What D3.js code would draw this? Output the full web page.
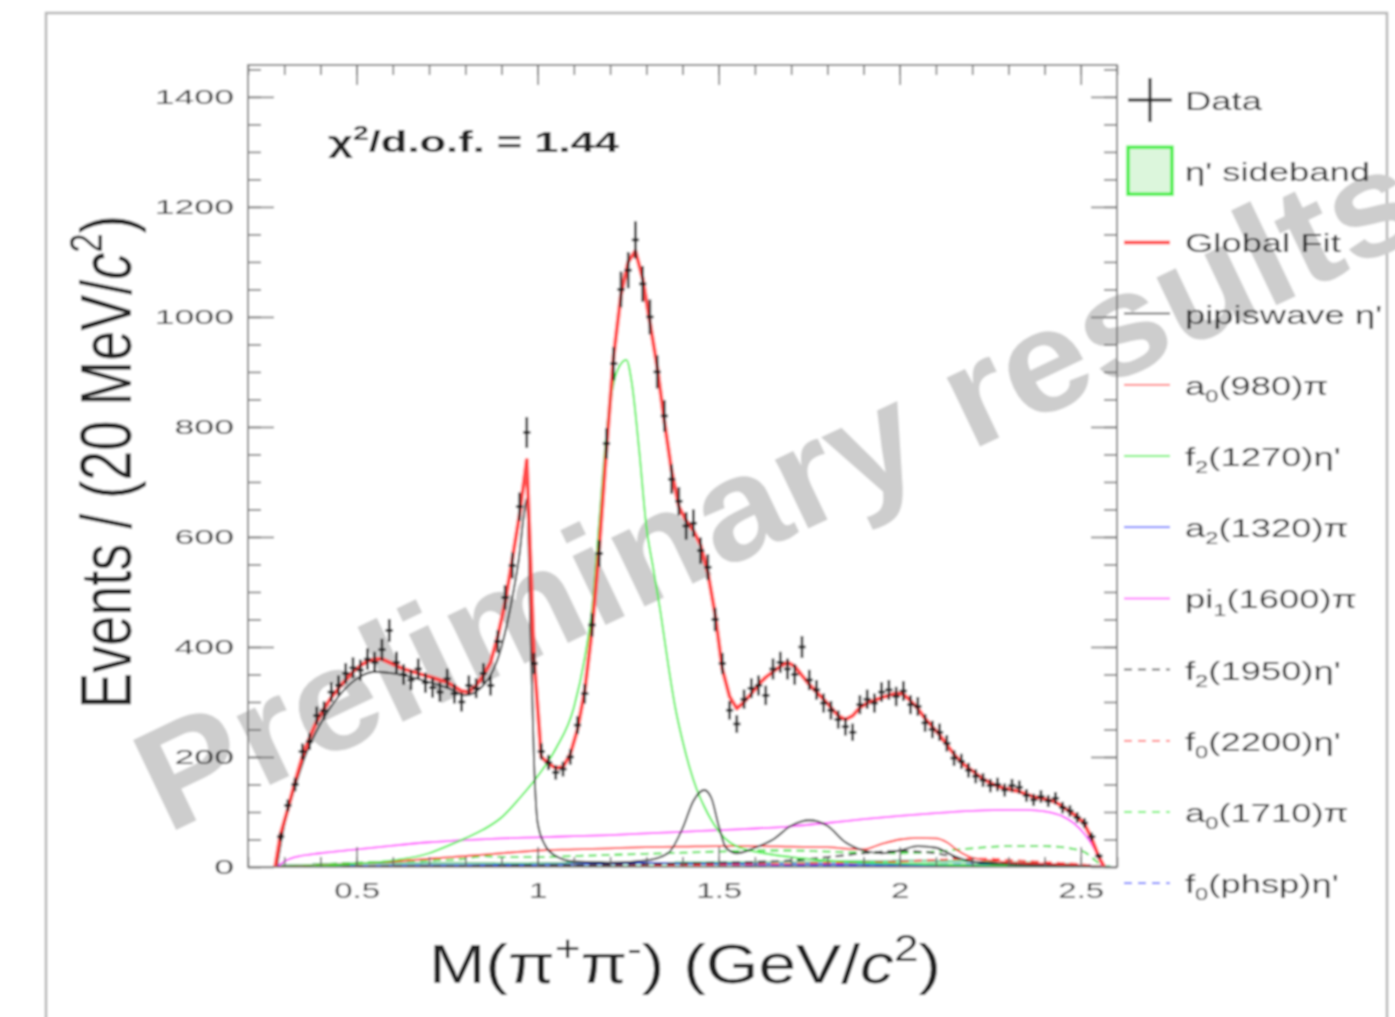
<!DOCTYPE html>
<html lang="en">
<head>
<meta charset="UTF-8">
<title>M(pi+pi-) fit</title>
<script src="https://cdn.jsdelivr.net/npm/d3@7"></script>
<style>
    body { margin: 0; background: #fff; }
    svg { display: block; font-family: "Liberation Sans", Arial, sans-serif; }
</style>
</head>
<body>
<script>
// binning of the M(pi+pi-) histogram (20 MeV bins)
const binStart = 0.28;
const binWidth = 0.02;

// observed events per bin
const dataCounts = [
    55, 112, 150, 210, 228, 275, 284, 318, 330, 352,
    362, 358, 378, 372, 395, 430, 372, 350, 340, 360,
    335, 326, 318, 342, 315, 300, 330, 325, 352, 330,
    410, 490, 548, 655, 790, 370, 210, 190, 172, 178,
    200, 258, 315, 440, 570, 770, 915, 1050, 1085, 1140,
    1060, 1000, 900, 820, 705, 665, 620, 625, 575, 545,
    450, 370, 285, 260, 305, 325, 330, 312, 360, 372,
    360, 350, 400, 340, 322, 298, 285, 268, 255, 245,
    295, 305, 298, 318, 322, 310, 320, 295, 292, 262,
    250, 245, 225, 198, 192, 176, 165, 158, 148, 150,
    140, 148, 145, 130, 122, 128, 120, 125, 108, 102,
    90, 80, 55, 20
];

// global fit, same bins
const fitValues = [
    60, 105, 155, 200, 235, 265, 288, 308, 325, 340,
    355, 366, 374, 378, 378, 372, 366, 360, 356, 352,
    348, 344, 340, 336, 328, 320, 318, 330, 348, 372,
    420, 480, 560, 640, 740, 380, 200, 188, 180, 182,
    205, 250, 320, 430, 580, 760, 930, 1040, 1100, 1120,
    1070, 990, 910, 810, 720, 655, 630, 612, 585, 535,
    460, 360, 310, 288, 300, 315, 332, 345, 355, 365,
    372, 365, 348, 332, 318, 305, 290, 275, 268, 275,
    290, 298, 303, 308, 312, 316, 314, 302, 288, 270,
    255, 240, 222, 205, 190, 180, 170, 160, 153, 147,
    143, 140, 137, 132, 128, 125, 122, 118, 110, 100,
    92, 78, 52, 18
];

// eta' sideband, 100 MeV steps
const sidebandEdges = [0.28, 0.38, 0.48, 0.58, 0.68, 0.78, 0.88, 0.98, 1.08, 1.18, 1.28, 1.38,
    1.48, 1.58, 1.68, 1.78, 1.88, 1.98, 2.08, 2.18, 2.28, 2.38, 2.48, 2.58];
const sidebandCounts = [4, 6, 7, 7, 8, 8, 7, 8, 9, 8, 8, 9, 9, 10, 10, 11, 11, 12, 11, 10, 9, 6, 2];

const sWaveMass = [0.28, 0.30, 0.33, 0.36, 0.40, 0.45, 0.50, 0.55, 0.60, 0.65, 0.70, 0.75, 0.80, 0.85, 0.90, 0.93, 0.95, 0.96, 0.97, 0.98, 0.99, 1.00, 1.02, 1.05, 1.10, 1.20, 1.30, 1.36, 1.40, 1.43, 1.46, 1.48, 1.50, 1.52, 1.55, 1.60, 1.65, 1.70, 1.75, 1.80, 1.85, 1.90, 1.95, 2.00, 2.05, 2.10, 2.15, 2.20, 2.30, 2.40, 2.50, 2.56];
const sWaveEvents = [0, 75, 145, 205, 260, 310, 342, 355, 352, 345, 336, 326, 312, 330, 400, 490, 570, 630, 670, 430, 190, 80, 40, 20, 10, 8, 12, 25, 70, 120, 140, 125, 75, 35, 25, 35, 50, 75, 85, 75, 45, 30, 25, 30, 38, 35, 20, 10, 5, 3, 1, 0];

const f1270Mass = [0.30, 0.40, 0.50, 0.60, 0.70, 0.75, 0.80, 0.85, 0.90, 0.95, 1.00, 1.05, 1.10, 1.13, 1.15, 1.17, 1.19, 1.21, 1.23, 1.245, 1.26, 1.28, 1.30, 1.32, 1.34, 1.36, 1.38, 1.40, 1.42, 1.44, 1.46, 1.48, 1.50, 1.53, 1.56, 1.60, 1.70, 1.80, 1.90, 2.00, 2.20, 2.40, 2.56];
const f1270Events = [0, 2, 6, 12, 25, 38, 52, 68, 90, 125, 165, 215, 290, 380, 470, 630, 790, 880, 915, 922, 880, 760, 620, 540, 460, 370, 290, 230, 180, 140, 110, 85, 65, 45, 35, 28, 18, 12, 8, 6, 3, 1, 0];

const pi1600Mass = [0.28, 0.30, 0.33, 0.40, 0.50, 0.60, 0.70, 0.80, 0.90, 1.00, 1.10, 1.20, 1.30, 1.40, 1.50, 1.60, 1.70, 1.80, 1.90, 2.00, 2.10, 2.20, 2.30, 2.35, 2.40, 2.45, 2.48, 2.51, 2.54, 2.56];
const pi1600Events = [0, 10, 18, 25, 32, 39, 45, 49, 52, 54, 56, 58, 61, 64, 67, 70, 74, 80, 87, 93, 98, 102, 104, 104, 101, 92, 80, 60, 30, 0];

const a980Mass = [0.28, 0.40, 0.50, 0.60, 0.70, 0.80, 0.90, 1.00, 1.10, 1.20, 1.30, 1.40, 1.50, 1.60, 1.70, 1.80, 1.86, 1.90, 1.95, 2.00, 2.05, 2.10, 2.13, 2.16, 2.20, 2.30, 2.40, 2.50, 2.56];
const a980Events = [0, 3, 6, 10, 15, 20, 25, 30, 32, 34, 36, 37, 38, 38, 37, 36, 33, 32, 42, 50, 53, 52, 45, 30, 17, 9, 6, 3, 0];

const a1320Mass = [0.28, 0.50, 0.80, 1.00, 1.20, 1.30, 1.40, 1.60, 1.80, 2.00, 2.20, 2.40, 2.56];
const a1320Events = [0, 2, 3, 4, 6, 8, 6, 5, 5, 4, 4, 3, 0];

const f1950Mass = [0.28, 0.50, 1.00, 1.30, 1.50, 1.70, 1.80, 1.90, 1.95, 2.00, 2.05, 2.10, 2.15, 2.20, 2.30, 2.40, 2.56];
const f1950Events = [0, 1, 3, 5, 8, 12, 18, 25, 28, 29, 28, 25, 18, 10, 5, 3, 0];

const f2200Mass = [0.28, 0.50, 1.00, 1.50, 1.80, 2.00, 2.10, 2.20, 2.25, 2.30, 2.40, 2.50, 2.56];
const f2200Events = [0, 1, 2, 4, 7, 10, 13, 15, 15, 13, 9, 5, 0];

const a1710Mass = [0.28, 0.40, 0.50, 0.60, 0.70, 0.80, 0.85, 0.90, 1.00, 1.10, 1.20, 1.30, 1.40, 1.50, 1.60, 1.70, 1.80, 1.90, 2.00, 2.10, 2.20, 2.30, 2.40, 2.50, 2.54, 2.56];
const a1710Events = [0, 5, 8, 10, 12, 15, 20, 18, 18, 20, 22, 24, 26, 28, 30, 30, 28, 26, 25, 28, 34, 38, 38, 30, 12, 0];

const phspMass = [0.28, 0.50, 1.00, 1.50, 2.00, 2.30, 2.50, 2.56];
const phspEvents = [0, 1, 2, 3, 4, 5, 4, 0];

// axis ticks
const xMajor = [0.5, 1, 1.5, 2, 2.5];
const xMinor = d3.range(0.2, 2.61, 0.1);
const yMajor = [0, 200, 400, 600, 800, 1000, 1200, 1400];
const yMinor = d3.range(0, 1451, 50);

const legendLabels = ["Data", "η' sideband", "Global Fit", "pipiswave η'", "a_{0}(980)π", "f_{2}(1270)η'",
    "a_{2}(1320)π", "pi_{1}(1600)π", "f_{2}(1950)η'", "f_{0}(2200)η'", "a_{0}(1710)π", "f_{0}(phsp)η'"];

// ---------------------------------------------------------------
const W = 1395, H = 1017;
const frame = { left: 248, top: 65, right: 1117, bottom: 867 };

const svg = d3.select("body").append("svg").attr("width", W).attr("height", H);
svg.append("defs").append("filter").attr("id", "soft")
    .append("feGaussianBlur").attr("stdDeviation", 1.1);
const root = svg.append("g").attr("filter", "url(#soft)");

root.append("rect").attr("width", W).attr("height", H).attr("fill", "#fff");
// canvas border
root.append("rect").attr("x", 46).attr("y", 13).attr("width", 1341).attr("height", 1100)
    .attr("fill", "#fff").attr("stroke", "#b4b4b4").attr("stroke-width", 2.5);

const x = d3.scaleLinear().domain([0.2, 2.6]).range([frame.left, frame.right]);
const y = d3.scaleLinear().domain([0, 1458]).range([frame.bottom, frame.top]);

// text with _{sub}, ^{sup}, ~{italic}
function rich(t, str, fs) {
    const parts = str.split(/([_^~]\{[^}]*\})/).filter(s => s.length);
    let cur = 0;
    parts.forEach(p => {
        let dy, size = fs, txt = p, italic = false;
        if (p[0] === "^" || p[0] === "_") {
            const target = p[0] === "^" ? -0.4 * fs : 0.28 * fs;
            dy = target - cur; cur = target; size = fs * 0.65; txt = p.slice(2, -1);
        } else if (p[0] === "~") {
            dy = -cur; cur = 0; italic = true; txt = p.slice(2, -1);
        } else {
            dy = -cur; cur = 0;
        }
        const ts = t.append("tspan").attr("dy", dy).attr("font-size", size).text(txt);
        if (italic) ts.attr("font-style", "italic");
    });
}

// watermark
root.append("text")
    .attr("transform", "translate(777,488) rotate(-25.5)")
    .attr("text-anchor", "middle").attr("dominant-baseline", "central")
    .attr("font-size", 145).attr("font-weight", "bold").attr("fill", "#cdcdcd")
    .attr("textLength", 1400).attr("lengthAdjust", "spacingAndGlyphs")
    .text("Preliminary results");

// sideband histogram
const sbPts = sidebandEdges.map((e, i) => [e, i < sidebandCounts.length ? sidebandCounts[i] : sidebandCounts[sidebandCounts.length - 1]]);
root.append("path")
    .datum(sbPts)
    .attr("d", d3.area().curve(d3.curveStepAfter).x(d => x(d[0])).y0(y(0)).y1(d => y(d[1])))
    .attr("fill", "#bfefd0").attr("stroke", "#2fbf6f").attr("stroke-width", 1.2);

// components
const comps = [
    { m: phspMass, v: phspEvents, color: "#3344ff", dash: "8,5" },
    { m: a1320Mass, v: a1320Events, color: "#2233dd", dash: null },
    { m: a1710Mass, v: a1710Events, color: "#22dd22", dash: "8,5" },
    { m: f2200Mass, v: f2200Events, color: "#ff3333", dash: "8,5" },
    { m: f1950Mass, v: f1950Events, color: "#222", dash: "8,5" },
    { m: a980Mass, v: a980Events, color: "#ff2a2a", dash: null },
    { m: pi1600Mass, v: pi1600Events, color: "#ff33ff", dash: null },
    { m: f1270Mass, v: f1270Events, color: "#33ee33", dash: null },
    { m: sWaveMass, v: sWaveEvents, color: "#222", dash: null }
];
const compLine = d3.line().curve(d3.curveMonotoneX).x(d => x(d[0])).y(d => y(d[1]));
comps.forEach(c => {
    root.append("path")
        .datum(c.m.map((m, i) => [m, c.v[i]]))
        .attr("d", compLine)
        .attr("fill", "none").attr("stroke", c.color).attr("stroke-width", 1.8)
        .attr("stroke-dasharray", c.dash);
});

// global fit
const centers = dataCounts.map((_, i) => binStart + binWidth * (i + 0.5));
const fitPts = [[0.275, 0]].concat(centers.map((c, i) => [c, fitValues[i]])).concat([[2.565, 0]]);
root.append("path")
    .datum(fitPts)
    .attr("d", d3.line().x(d => x(d[0])).y(d => y(d[1])))
    .attr("fill", "none").attr("stroke", "#ff3838").attr("stroke-width", 4)
    .attr("stroke-linejoin", "round").attr("opacity", 0.9);

// data points with errors
const pts = root.append("g").attr("stroke", "#1a1a1a").attr("stroke-width", 2.6);
centers.forEach((c, i) => {
    const n = dataCounts[i], e = Math.sqrt(n);
    pts.append("line").attr("x1", x(c)).attr("x2", x(c)).attr("y1", y(n - e)).attr("y2", y(n + e));
    pts.append("line").attr("x1", x(c - binWidth / 2)).attr("x2", x(c + binWidth / 2)).attr("y1", y(n)).attr("y2", y(n));
});

// frame and ticks on all four sides
function styleAxis(g) {
    g.select(".domain").remove();
    g.selectAll(".tick line").attr("stroke", "#666").attr("stroke-width", 1.5);
}
root.append("g").attr("transform", `translate(${frame.left},0)`)
    .call(d3.axisLeft(y).tickValues(yMinor).tickSizeInner(-13).tickSizeOuter(0).tickFormat(""))
    .call(styleAxis);
root.append("g").attr("transform", `translate(${frame.right},0)`)
    .call(d3.axisRight(y).tickValues(yMinor).tickSizeInner(-13).tickSizeOuter(0).tickFormat(""))
    .call(styleAxis);
root.append("g").attr("transform", `translate(${frame.right},0)`)
    .call(d3.axisRight(y).tickValues(yMajor).tickSizeInner(-26).tickSizeOuter(0).tickFormat(""))
    .call(styleAxis);
root.append("g").attr("transform", `translate(0,${frame.bottom})`)
    .call(d3.axisBottom(x).tickValues(xMinor).tickSizeInner(-10).tickSizeOuter(0).tickFormat(""))
    .call(styleAxis);
root.append("g").attr("transform", `translate(0,${frame.top})`)
    .call(d3.axisTop(x).tickValues(xMinor).tickSizeInner(-10).tickSizeOuter(0).tickFormat(""))
    .call(styleAxis);
root.append("g").attr("transform", `translate(0,${frame.top})`)
    .call(d3.axisTop(x).tickValues(xMajor).tickSizeInner(-20).tickSizeOuter(0).tickFormat(""))
    .call(styleAxis);

const yAxis = root.append("g").attr("transform", `translate(${frame.left},0)`)
    .call(d3.axisLeft(y).tickValues(yMajor).tickSizeInner(-26).tickSizeOuter(0).tickPadding(14).tickFormat(d3.format("d")))
    .call(styleAxis);
yAxis.selectAll("text")
    .attr("font-size", 21).attr("fill", "#3a3a3a").attr("font-family", "Liberation Sans, Arial, sans-serif")
    .attr("x", -14 / 1.7).attr("transform", "scale(1.7,1)");

const xAxis = root.append("g").attr("transform", `translate(0,${frame.bottom})`)
    .call(d3.axisBottom(x).tickValues(xMajor).tickSizeInner(-20).tickSizeOuter(0).tickPadding(15).tickFormat(d3.format("~g")))
    .call(styleAxis);
xAxis.selectAll("text")
    .attr("font-size", 22).attr("fill", "#3a3a3a").attr("font-family", "Liberation Sans, Arial, sans-serif")
    .attr("transform", "scale(1.5,1)");

root.append("rect")
    .attr("x", frame.left).attr("y", frame.top)
    .attr("width", frame.right - frame.left).attr("height", frame.bottom - frame.top)
    .attr("fill", "none").attr("stroke", "#7a7a7a").attr("stroke-width", 1.8);

// titles
const yTitle = root.append("text")
    .attr("transform", "translate(131,462) scale(1.33,1) rotate(-90)")
    .attr("text-anchor", "middle").attr("fill", "#222").attr("font-size", 54);
rich(yTitle, "Events / (20 MeV/~{c}^{2})", 54);

const xTitle = root.append("text")
    .attr("transform", "translate(685,983) scale(1.21,1)")
    .attr("text-anchor", "middle").attr("fill", "#222").attr("font-size", 56);
rich(xTitle, "M(π^{+}π^{-}) (GeV/~{c}^{2})", 56);

const chi = root.append("text")
    .attr("transform", "translate(328,152) scale(1.45,1)")
    .attr("fill", "#222").attr("font-size", 30).attr("font-weight", "bold");
rich(chi, "χ^{2}/d.o.f. = 1.44", 30);

// legend
const legendStyles = [
    { kind: "data" },
    { kind: "box" },
    { kind: "line", color: "#ff3838", w: 3.5 },
    { kind: "line", color: "#222", w: 1.5 },
    { kind: "line", color: "#ff4444", w: 1.5 },
    { kind: "line", color: "#33ee33", w: 1.5 },
    { kind: "line", color: "#3344ff", w: 1.5 },
    { kind: "line", color: "#ff33ff", w: 1.5 },
    { kind: "line", color: "#222", w: 1.5, dash: "8,6" },
    { kind: "line", color: "#ff4444", w: 1.5, dash: "8,6" },
    { kind: "line", color: "#33ee33", w: 1.5, dash: "8,6" },
    { kind: "line", color: "#3344ff", w: 1.5, dash: "8,6" }
];
const leg = root.append("g");
legendLabels.forEach((lab, i) => {
    const cy = 100 + i * 71.2;
    const s = legendStyles[i];
    if (s.kind === "data") {
        leg.append("line").attr("x1", 1128).attr("x2", 1172).attr("y1", cy).attr("y2", cy).attr("stroke", "#1a1a1a").attr("stroke-width", 3);
        leg.append("line").attr("x1", 1150).attr("x2", 1150).attr("y1", cy - 22).attr("y2", cy + 22).attr("stroke", "#1a1a1a").attr("stroke-width", 3);
    } else if (s.kind === "box") {
        leg.append("rect").attr("x", 1128).attr("y", cy - 24).attr("width", 44).attr("height", 47)
            .attr("fill", "#dcf6dc").attr("stroke", "#44ee44").attr("stroke-width", 3.5);
    } else {
        leg.append("line").attr("x1", 1124).attr("x2", 1170).attr("y1", cy).attr("y2", cy)
            .attr("stroke", s.color).attr("stroke-width", s.w).attr("stroke-dasharray", s.dash || null);
    }
    const t = leg.append("text")
        .attr("transform", `translate(1185,${cy + 10}) scale(1.4,1)`)
        .attr("fill", "#333").attr("font-size", 26);
    rich(t, lab, 26);
});
</script>
</body>
</html>
